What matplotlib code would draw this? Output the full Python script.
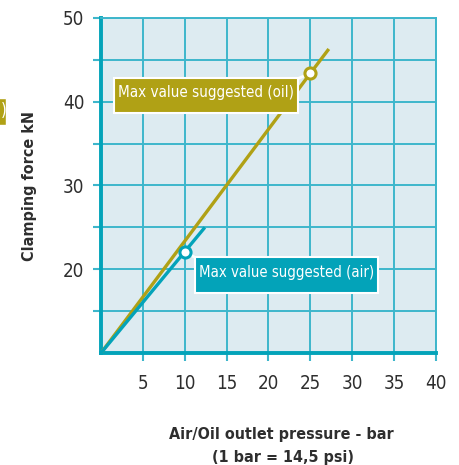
import matplotlib
matplotlib.use("Agg")
import matplotlib.pyplot as plt
from matplotlib.patches import Rectangle

# ---- data ----
oil_x = [0, 25, 27.2]
oil_y = [10, 43.4, 46.3]
air_x = [0, 10, 12.4]
air_y = [10, 22.1, 25.0]
oil_max = (25, 43.4)
air_max = (10, 22.1)
x_ticks = [5, 10, 15, 20, 25, 30, 35, 40]
y_major = [20, 30, 40, 50]
y_minor = [15, 25, 35, 45]
oil_label = "Max value suggested (oil)"
air_label = "Max value suggested (air)"
x_label1 = "Air/Oil outlet pressure - bar"
x_label2 = "(1 bar = 14,5 psi)"
y_label = "Clamping force kN"

OLIVE = "#B0A115"
TEAL = "#03A3B9"
GRID = "#3DB6CB"
BG = "#DDEBF1"
TXT = "#2E2E2E"
FONT = ["DejaVu Sans"]
ST = "condensed"

W, H = 460, 465
fig = plt.figure(figsize=(W / 100, H / 100), dpi=100)
fig.patch.set_facecolor("white")
renderer = fig.canvas.get_renderer()


def fx(px):
    return px / W


def fy(py):
    return 1 - py / H


def fit(t, target_px, vertical=False):
    bb = t.get_window_extent(renderer=renderer)
    cur = bb.height if vertical else bb.width
    t.set_fontsize(t.get_fontsize() * target_px / cur)


ax = fig.add_axes([fx(101), fy(353), fx(436) - fx(101), fy(18) - fy(353)])
ax.set_facecolor(BG)
ax.set_xlim(0, 40)
ax.set_ylim(10, 50)

ax.set_xticks(x_ticks)
ax.set_xticklabels([str(v) for v in x_ticks], fontfamily=FONT, fontstretch=ST,
                   fontsize=13.5, color=TXT)
ax.set_yticks(y_major)
ax.set_yticklabels([str(v) for v in y_major], fontfamily=FONT, fontstretch=ST,
                   fontsize=13.5, color=TXT)
ax.set_yticks(y_minor, minor=True)
ax.tick_params(axis="both", which="both", direction="out", length=6, width=1.5,
               color=GRID)
ax.tick_params(axis="y", pad=6)
ax.tick_params(axis="x", pad=9)

ax.grid(True, which="both", color=GRID, linewidth=1.4, zorder=1)
ax.set_axisbelow(True)

for s in ["left", "bottom"]:
    ax.spines[s].set_color(TEAL)
    ax.spines[s].set_linewidth(2.8)
for s in ["top", "right"]:
    ax.spines[s].set_color(GRID)
    ax.spines[s].set_linewidth(1.4)

ax.plot(oil_x, oil_y, color=OLIVE, lw=2.4, solid_capstyle="butt", zorder=3)
ax.plot(air_x, air_y, color=TEAL, lw=2.4, solid_capstyle="butt", zorder=3)


def data_from_px(px, py):
    return (px - 101) / 335 * 40, 50 - (py - 18) / 335 * 40


ox, oy = data_from_px(297, 79)
ax.plot([oil_max[0], ox], [oil_max[1], oy], color="white", lw=2, zorder=4)
axx, axy = data_from_px(196, 258)
ax.plot([air_max[0], axx], [air_max[1], axy], color="white", lw=2, zorder=4)

ax.plot(*oil_max, marker="o", ms=8, mfc="white", mec=OLIVE, mew=2.2, zorder=6)
ax.plot(*air_max, marker="o", ms=8, mfc="white", mec=TEAL, mew=2.2, zorder=6)


def label_box(x0, y0, x1, y1, color, text):
    bx0, by0 = data_from_px(x0, y1)
    bx1, by1 = data_from_px(x1, y0)
    r = Rectangle((bx0, by0), bx1 - bx0, by1 - by0, facecolor=color,
                  edgecolor="white", lw=1.5, zorder=5)
    ax.add_patch(r)
    t = ax.text((bx0 + bx1) / 2, (by0 + by1) / 2 + 0.3, text, color="white",
                fontfamily=FONT, fontstretch=ST, fontsize=12, ha="center",
                va="center", zorder=7)
    fit(t, (x1 - x0) - 8)


label_box(114, 78, 298, 113, OLIVE, oil_label)
label_box(195, 257, 378, 293, TEAL, air_label)

# cut-off element at left edge
fig.patches.append(Rectangle((fx(-20), fy(125)), fx(26), fy(98) - fy(125),
                             transform=fig.transFigure, facecolor=OLIVE,
                             edgecolor="white", lw=1, figure=fig))
fig.text(fx(0.5), fy(111.5), ")", color="white", fontfamily=FONT, fontstretch=ST,
         fontsize=12, ha="left", va="center")

t = fig.text(fx(30), fy(186), y_label, rotation=90, fontfamily=FONT, fontstretch=ST,
             fontsize=14, fontweight="bold", color=TXT, ha="center", va="center")
fit(t, 150, vertical=True)
t1 = fig.text(fx(281), fy(434), x_label1, fontfamily=FONT, fontstretch=ST,
              fontsize=14, fontweight="bold", color=TXT, ha="center", va="center")
fit(t1, 225)
t2 = fig.text(fx(283), fy(457), x_label2, fontfamily=FONT, fontstretch=ST,
              fontsize=t1.get_fontsize(), fontweight="bold", color=TXT,
              ha="center", va="center")

fig.savefig("out.png", dpi=100)
